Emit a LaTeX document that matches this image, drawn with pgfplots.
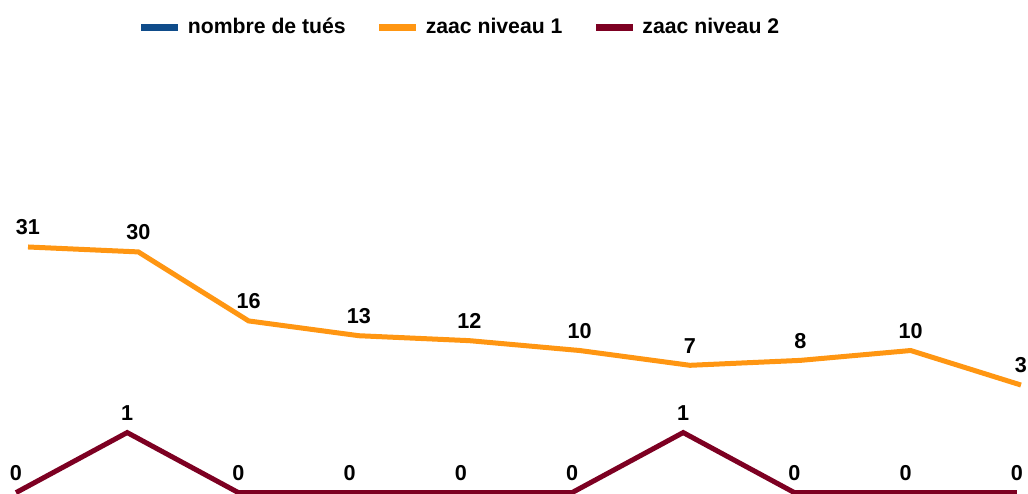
\documentclass[border=0pt]{standalone}
\usepackage{pgfplots}
\pgfplotsset{compat=1.18}
\usepackage{fontspec}
\setmainfont{Liberation Sans}
\definecolor{cblue}{HTML}{0F4C8A}
\definecolor{corange}{HTML}{FF9612}
\definecolor{cred}{HTML}{7D0022}
\pgfplotstableread{
x y
0 31
1 30
2 16
3 13
4 12
5 10
6 7
7 8
8 10
9 3
}\niveauun
\pgfplotstableread{
x y
0 0
1 1
2 0
3 0
4 0
5 0
6 1
7 0
8 0
9 0
}\niveaudeux
\begin{document}
\begin{tikzpicture}
\pgfplotsset{
  base/.style={
    scale only axis, width=514pt, height=246.5pt,
    at={(0,0)}, anchor=south west,
    axis lines=none, clip=true,
    /pgf/number format/assume math mode=true,
    nodes near coords,
    every node near coord/.append style={font=\fontsize{10.8}{12}\selectfont\bfseries, text=black, anchor=south, yshift=1.5pt},
    legend image code/.code={\draw[#1, line width=3.5pt] (0pt,0pt) -- (18.5pt,0pt);},
  }
}
\begin{axis}[base, xmin=-0.1439, xmax=9.1007, ymin=-0.006, ymax=8.2]
\addplot[cred, line width=2.5pt, mark=none] table[x=x,y=y] {\niveaudeux};
\end{axis}
\begin{axis}[base, xmin=-0.2538, xmax=9.0636, ymin=-18.9, ymax=81.1,
  legend columns=3,
  legend style={draw=none, fill=none, at={(0.448,0.945)}, anchor=center,
    font=\fontsize{10.6}{12}\selectfont\bfseries,
    /tikz/every even column/.append style={column sep=13pt},
    /tikz/every odd column/.append style={column sep=1pt}},
]
\addlegendimage{cblue, line width=2.5pt}
\addlegendentry{nombre de tués}
\addplot[corange, line width=2.5pt, mark=none] table[x=x,y=y] {\niveauun};
\addlegendentry{zaac niveau 1}
\addlegendimage{cred, line width=2.5pt}
\addlegendentry{zaac niveau 2}
\end{axis}
\pgfresetboundingbox
\useasboundingbox (0,0) rectangle (514pt,246.5pt);
\end{tikzpicture}
\end{document}
